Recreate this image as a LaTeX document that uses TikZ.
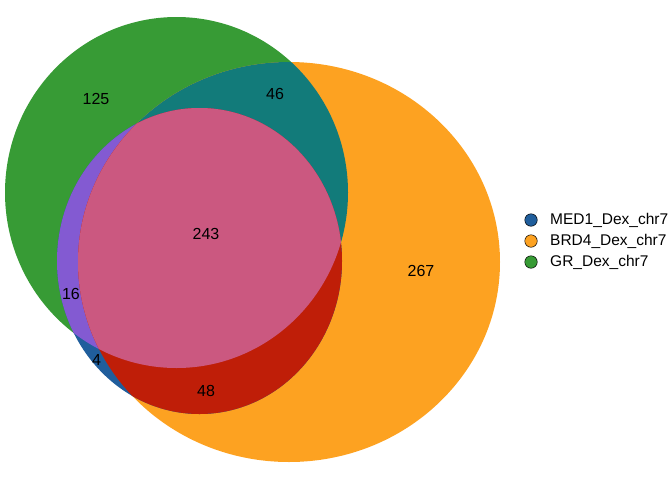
\documentclass[tikz,border=0pt]{standalone}
\usepackage{fontspec}
\setmainfont{Liberation Sans}
\usetikzlibrary{positioning}
\definecolor{grgreen}{RGB}{55,155,53}
\definecolor{brdorange}{RGB}{253,162,33}
\definecolor{medblue}{RGB}{32,94,156}
\definecolor{gobteal}{RGB}{18,123,122}
\definecolor{gmpurple}{RGB}{131,90,210}
\definecolor{omred}{RGB}{191,30,8}
\definecolor{allpink}{RGB}{203,88,128}
% the three sets
\newcommand{\grset}{(176.5,192.5) ellipse [x radius=171.5pt, y radius=175.5pt]}
\newcommand{\brdset}{(289,262) ellipse [x radius=211pt, y radius=200pt]}
\newcommand{\medset}{(199.5,261) ellipse [x radius=142.5pt, y radius=153pt]}
\tikzset{
  count/.style={font=\fontsize{16}{16}\selectfont, inner sep=0pt},
  keydot/.style={circle, draw=black, line width=0.5pt,
    minimum size=12.5pt, inner sep=0pt},
  keytext/.style={font=\fontsize{15.5}{16}\selectfont, inner sep=0pt}
}

\begin{document}
\begin{tikzpicture}[x=1pt, y=-1pt]
  \useasboundingbox (0,0) rectangle (672,480);
  % single sets
  \fill[grgreen]   \grset;
  \fill[brdorange] \brdset;
  \fill[medblue]   \medset;
  % pairs
  \begin{scope}
    \clip \grset;
    \fill[gobteal] \brdset;
    \fill[gmpurple] \medset;
  \end{scope}
  \begin{scope}
    \clip \brdset;
    \fill[omred] \medset;
  \end{scope}
  % all three
  \begin{scope}
    \clip \grset;
    \clip \brdset;
    \fill[allpink] \medset;
  \end{scope}

  \node[count] (n125) at (96,98.5)    {125};
  \node[count] (n46)  at (275,93.5)   {46};
  \node[count] (n243) at (206,233.5)  {243};
  \node[count] (n267) at (421,271)    {267};
  \node[count] (n16)  at (71,294)     {16};
  \node[count] (n4)   at (96.5,359.5) {4};
  \node[count] (n48)  at (206,391)    {48};

  % legend
  \node[keydot, fill=medblue]   (kmed) at (531,220) {};
  \node[keydot, fill=brdorange, below=8pt of kmed] (kbrd) {};
  \node[keydot, fill=grgreen,   below=8pt of kbrd] (kgr)  {};
  \node[keytext, right=12.5pt of kmed] (tmed) {MED1\_Dex\_chr7};
  \node[keytext, right=12.5pt of kbrd] (tbrd) {BRD4\_Dex\_chr7};
  \node[keytext, right=12.5pt of kgr]  (tgr)  {GR\_Dex\_chr7};
\end{tikzpicture}
\end{document}
